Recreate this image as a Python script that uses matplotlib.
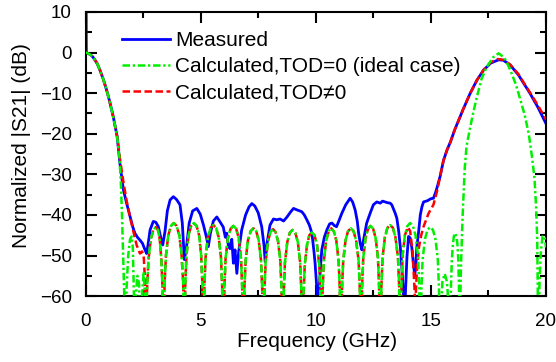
import matplotlib
matplotlib.use("Agg")
import matplotlib.pyplot as plt

plt.rcParams['font.family'] = ['Liberation Sans', 'DejaVu Sans']
plt.rcParams['font.size'] = 13.5

# main lobe near 0 GHz, shared by all three curves
lobe0_f = [0, 0.1, 0.2, 0.3, 0.4, 0.5, 0.62, 0.75, 0.91, 1.05, 1.2, 1.37]
lobe0_db = [0, -0.2, -0.5, -1.0, -1.8, -2.7, -4.3, -6.3, -9.2, -12.2, -15.8, -20.7]

# measured
meas_f = [0.02, 0.03] + lobe0_f[2:] + [
    1.49, 1.64, 1.78, 1.93, 2.05, 2.14, 2.25, 2.36, 2.47, 2.58, 2.65, 2.72, 2.8, 2.94,
    3.05, 3.16, 3.28, 3.35, 3.45, 3.55, 3.67, 3.81, 3.95, 4.1, 4.2, 4.29, 4.38, 4.5,
    4.65, 4.83, 4.98, 5.12, 5.25, 5.33, 5.42, 5.55, 5.7, 5.85, 5.98, 6.07, 6.13, 6.2,
    6.27, 6.35, 6.42, 6.49, 6.57, 6.65, 6.78, 6.95, 7.1, 7.22, 7.35, 7.5, 7.65, 7.75,
    7.8, 7.88, 8.01, 8.16, 8.3, 8.45, 8.6, 8.75, 8.9, 9.03, 9.2, 9.39, 9.5, 9.61,
    9.72, 9.83, 9.92, 9.97, 10.03, 10.08, 10.14, 10.2, 10.26, 10.37, 10.48, 10.6,
    10.7, 10.8, 10.9, 11.0, 11.13, 11.3, 11.49, 11.6, 11.71, 11.8, 11.86, 11.93,
    12.0, 12.08, 12.21, 12.36, 12.5, 12.65, 12.8, 12.9, 13.01, 13.12, 13.23, 13.3,
    13.45, 13.52, 13.6, 13.67, 13.74, 13.81, 13.88, 13.96, 14.03, 14.1, 14.17, 14.24,
    14.3, 14.35, 14.39, 14.46, 14.54, 14.61, 14.68, 14.85, 15.0, 15.11, 15.2, 15.26,
    15.4, 15.55, 15.7, 15.85, 16.03, 16.4, 16.71, 17.0, 17.29, 17.6, 17.94, 18.15,
    18.45, 18.8, 19.3, 19.65, 20.0]
meas_db = [15, 0] + lobe0_db[2:] + [
    -27.3, -33.8, -37.1, -40.4, -43, -44.5, -45.5, -46.2, -47, -48.6, -49.5, -47, -43.7, -41.6,
    -41.8, -42.9, -46, -47.4, -44, -39, -36.3, -35.5, -36.2, -37.5, -42, -51, -48, -42,
    -39, -38.4, -39.8, -42.5, -45.5, -47.8, -44.5, -41.5, -40.5, -41.8, -43, -45.5, -44.5, -47.5,
    -48.3, -46, -51.9, -48.6, -54.4, -49, -43.7, -40, -38, -37.2, -37.8, -39.5, -42.9, -47.5,
    -51.5, -47, -42.5, -41, -41.2, -41, -41.5, -40.5, -39.3, -38.4, -38.8, -39.2, -40, -41.2,
    -42.5, -44.5, -49, -52, -57, -61, -59, -53, -48.6, -45.5, -43.7, -42.2,
    -42, -42.6, -42.9, -41.5, -39.6, -37.5, -35.9, -36.8, -38.8, -41.5, -44.5, -47,
    -48.6, -46, -42, -39.6, -37.5, -36.8, -37.1, -36.6, -36.8, -37, -37.1, -37.5,
    -39.6, -40.8, -44, -47.8, -53, -60, -61, -50.3, -45.3, -45.7, -48, -52,
    -55, -52, -47.8, -44.5, -40, -38, -36.8, -36.5, -36, -35.9, -34.5, -33.4,
    -30.5, -26.5, -24, -22, -19.1, -14, -10, -6.8, -4.3, -2.6, -1.8, -1.9,
    -3.1, -5.5, -10, -13.5, -17.5]

# sidelobes shared by both calculated curves (2.62 - 13.67 GHz)
side_f = [
    2.62, 2.67, 2.73, 2.83, 2.94, 3.05, 3.14, 3.22, 3.29, 3.34, 3.38,
    3.43, 3.49, 3.59, 3.71, 3.83, 3.95, 4.07, 4.17, 4.24, 4.29,
    4.33, 4.38, 4.47, 4.58, 4.70, 4.82, 4.93, 5.02, 5.07, 5.11,
    5.16, 5.21, 5.31, 5.43, 5.55, 5.67, 5.78, 5.88, 5.93, 5.98,
    6.03, 6.08, 6.18, 6.30, 6.42, 6.54, 6.65, 6.75, 6.80, 6.85,
    6.90, 6.95, 7.05, 7.17, 7.29, 7.41, 7.52, 7.62, 7.67, 7.72,
    7.77, 7.82, 7.92, 8.03, 8.14, 8.25, 8.36, 8.46, 8.51, 8.56,
    8.61, 8.66, 8.76, 8.87, 8.99, 9.11, 9.22, 9.32, 9.37, 9.42,
    9.47, 9.52, 9.62, 9.72, 9.83, 9.94, 10.05, 10.15, 10.20, 10.25,
    10.30, 10.35, 10.45, 10.56, 10.67, 10.78, 10.89, 10.99, 11.04, 11.09,
    11.14, 11.19, 11.29, 11.40, 11.52, 11.64, 11.75, 11.86, 11.91, 11.96,
    12.01, 12.06, 12.16, 12.27, 12.38, 12.49, 12.60, 12.70, 12.75, 12.80,
    12.85, 12.90, 13.00, 13.11, 13.23, 13.35, 13.46, 13.57, 13.62, 13.67]
side_db = [
    -75, -58, -51, -46, -43.7, -43, -43.7, -46, -51, -58, -75,
    -57, -50, -45, -42.7, -42, -42.7, -45, -50, -57, -75,
    -57, -50, -45, -42.7, -42, -42.7, -45, -50, -57, -75,
    -57.5, -50.5, -45.5, -43.2, -42.5, -43.2, -45.5, -50.5, -57.5, -75,
    -57.7, -50.7, -45.7, -43.4, -42.7, -43.4, -45.7, -50.7, -57.7, -75,
    -58, -51.3, -46.3, -44, -43.3, -44, -46.3, -51.3, -58, -75,
    -58.5, -51.5, -46.5, -44.2, -43.5, -44.2, -46.5, -51.5, -58.5, -75,
    -58.7, -51.7, -46.7, -44.4, -43.7, -44.4, -46.7, -51.7, -58.7, -75,
    -59, -52.3, -47.3, -45, -44.3, -45, -47.3, -52.3, -59, -75,
    -58, -51.3, -46.3, -44, -43.3, -44, -46.3, -51.3, -58, -75,
    -58, -51.3, -46.3, -44, -43.3, -44, -46.3, -51.3, -58, -75,
    -57.7, -50.7, -45.7, -43.4, -42.7, -43.4, -45.7, -50.7, -57.7, -75,
    -57.5, -50.5, -45.5, -43.2, -42.5, -43.2, -45.5, -50.5, -57.5, -75]

# calculated, TOD = 0 (ideal case)
ideal_start_f = [1.47, 1.53, 1.58, 1.63, 1.68, 1.72, 1.78, 1.85, 1.93, 2.0, 2.05, 2.1,
                 2.13, 2.18, 2.25, 2.32, 2.4, 2.45, 2.52, 2.58]
ideal_start_db = [-26, -32, -40, -50, -60, -75, -58, -50, -46, -45.3, -48, -60,
                  -75, -60, -55, -57, -75, -60, -54, -60]
ideal_end_f = [13.72, 13.77, 13.87, 13.98, 14.1, 14.22, 14.33, 14.44, 14.49, 14.54,
               14.59, 14.64, 14.74, 14.85, 14.97, 15.09, 15.2, 15.3, 15.35, 15.4,
               15.45, 15.5, 15.6, 15.7, 15.76, 15.83,
               15.87, 15.91, 15.96, 16.0, 16.05, 16.1, 16.15, 16.19, 16.22, 16.25,
               16.28, 16.31, 16.38, 16.47, 16.55, 16.67, 16.85, 17.0, 17.2, 17.43,
               17.7, 17.94, 18.2, 18.45, 18.7, 18.88, 19.08, 19.25, 19.4, 19.5,
               19.57, 19.62, 19.67, 19.72, 19.78, 19.85, 19.94, 20.0]
ideal_end_db = [-57, -50, -45, -42.7, -42, -42.7, -45, -50, -57, -75,
                -58, -51, -46, -43.7, -43, -43.7, -46, -51, -58, -75,
                -62, -56.5, -54.5, -56.5, -62, -75,
                -58, -51, -47, -45.2, -44.5, -45.2, -47, -51, -58, -75,
                -60, -52, -40, -28.5, -23, -19.5, -14.5, -10.9, -6.5, -3.5,
                -1.2, -0.2, -1.3, -4.3, -8, -11.5, -15.5, -20, -26, -31,
                -38, -46, -75, -56, -49, -45.3, -45.3, -48]

# calculated, TOD != 0
tod_start_f = [1.5, 1.63, 1.78, 1.93, 2.07, 2.22, 2.36, 2.45, 2.52, 2.58]
tod_start_db = [-26.5, -31.5, -36.5, -40.5, -44, -47.5, -49.5, -49, -50, -56]
tod_end_f = [13.72, 13.77, 13.87, 14.0, 14.1, 14.2, 14.27, 14.32, 14.4, 14.48, 14.58,
             14.68, 14.9, 15.11, 15.26, 15.4, 15.55, 15.7, 15.85, 16.0, 16.4, 16.71,
             17.0, 17.29, 17.6, 17.9, 18.15, 18.45, 18.8, 19.3, 19.65, 20.0]
tod_end_db = [-57, -50, -45, -43, -44, -49, -56, -62, -53, -48, -45,
              -42.9, -39.6, -37.5, -34.3, -30.5, -26.5, -24, -22, -19.5, -14, -10,
              -6.8, -4.3, -2.4, -1.6, -1.8, -3.0, -5.3, -9.8, -13, -16.5]

ideal_f = lobe0_f + ideal_start_f + side_f + ideal_end_f
ideal_db = lobe0_db + ideal_start_db + side_db + ideal_end_db
tod_f = lobe0_f + tod_start_f + side_f + tod_end_f
tod_db = lobe0_db + tod_start_db + side_db + tod_end_db

fig = plt.figure(figsize=(5.56, 3.62), dpi=100)
ax = fig.add_axes([0.154, 0.182, 0.828, 0.785])

ax.plot(meas_f, meas_db, color='#0000ff', lw=2.0, label='Measured')
ax.plot(ideal_f, ideal_db, color='#00f000', lw=1.8, dashes=[3.0, 1.1, 0.9, 1.1],
        label='Calculated,TOD=0 (ideal case)', zorder=4)
ax.plot(tod_f, tod_db, color='#ff0000', lw=1.8, dashes=[3.0, 1.4],
        label='Calculated,TOD\u22600', zorder=3)

ax.set_xlim(0, 20)
ax.set_ylim(-60, 10)
ax.set_xticks([0, 5, 10, 15, 20])
ax.set_xticks([2.5, 7.5, 12.5, 17.5], minor=True)
ax.set_yticks(range(-60, 11, 10))
ax.set_yticks(range(-55, 10, 10), minor=True)
ax.tick_params(which='both', direction='in', top=True, right=True, width=1.5)
ax.tick_params(which='major', length=8)
ax.tick_params(axis='x', which='major', pad=12)
ax.tick_params(axis='y', which='major', pad=10)
ax.tick_params(which='minor', length=4.5)
for s in ax.spines.values():
    s.set_linewidth(1.5)

ax.set_xlabel('Frequency (GHz)', fontsize=15)
ax.set_ylabel('Normalized |S21| (dB)', fontsize=15)
ax.xaxis.set_label_coords(0.502, -0.128)
ax.yaxis.set_label_coords(-0.118, 0.53)

ax.legend(loc='upper left', bbox_to_anchor=(0.061, 0.961), frameon=False, fontsize=15,
          handlelength=2.3, handletextpad=0.25, labelspacing=0.34, borderaxespad=0)

plt.savefig('out.png', dpi=100)
